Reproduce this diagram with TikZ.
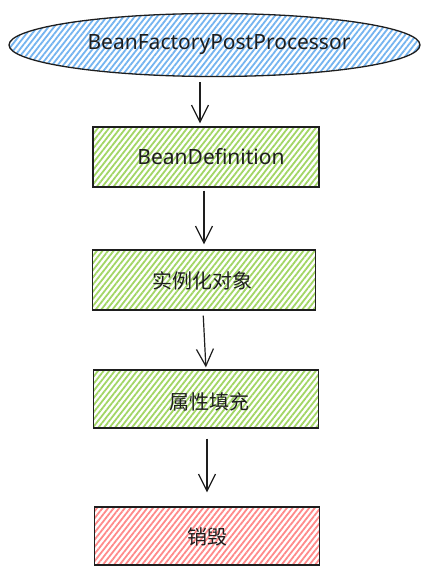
\documentclass[tikz,border=0pt]{standalone}
\usepackage{fontspec}
\setmainfont{Noto Sans}
\newfontfamily\cjk{Noto Sans CJK SC}
\usetikzlibrary{shapes.geometric,arrows.meta,patterns.meta}
\definecolor{inkc}{HTML}{1E1E1E}
\definecolor{hblue}{HTML}{74B4F0}
\definecolor{hgreen}{HTML}{A2D665}
\definecolor{hred}{HTML}{FF8A8A}
\tikzset{
  x=1pt,y=-1pt,
  hatch/.style={pattern={Lines[angle=52,distance=4.4pt,line width=1.8pt]},pattern color=#1},
  stagebox/.style={draw=inkc,line width=1.3pt,rectangle,minimum width=225pt,minimum height=60pt,inner sep=0pt},
  ovalnode/.style={draw=inkc,line width=1.3pt,ellipse,minimum width=411pt,minimum height=63pt,inner sep=0pt},
  lbl/.style={font=\fontsize{21}{24}\selectfont,text=inkc},
  cjklbl/.style={font=\cjk\fontsize{20}{24}\selectfont,text=inkc},
  arr/.style={draw=inkc,line width=1.2pt,-{Straight Barb[length=17pt,width=17pt,line width=1.2pt]}}
}
\begin{document}
\begin{tikzpicture}
\useasboundingbox (0,0) rectangle (428,575);
\fill[white] (0,0) rectangle (428,575);
% shapes
\node[ovalnode,hatch=hblue] (e) at (214.5,45) {};
\node[stagebox,hatch=hgreen,minimum width=226pt] (b1) at (206,157) {};
\node[stagebox,hatch=hgreen,minimum width=223pt] (b2) at (204,280) {};
\node[stagebox,hatch=hgreen,minimum height=58pt] (b3) at (206,399) {};
\node[stagebox,hatch=hred,minimum height=58pt] (b4) at (207,536) {};
% labels
\node[lbl] (te) at (219,45) {BeanFactoryPostProcessor};
\node[lbl] (t1) at (211,157) {BeanDefinition};
\node[cjklbl] (t2) at (202,281) {实例化对象};
\node[cjklbl] (t3) at (209,402) {属性填充};
\node[cjklbl] (t4) at (207,537) {销毁};
% arrows
\draw[arr,shorten <=5pt,shorten >=3pt] ([xshift=-14.5pt]e.south) -- ([xshift=-6pt]b1.north);
\draw[arr,shorten <=3pt,shorten >=5pt] ([xshift=-2pt]b1.south) -- ([xshift=0pt]b2.north);
\draw[arr,shorten <=5pt,shorten >=2pt] ([xshift=-1pt]b2.south) -- ([xshift=0pt]b3.north);
\draw[arr,shorten <=10pt,shorten >=14pt] ([xshift=1pt]b3.south) -- ([xshift=0pt]b4.north);
\end{tikzpicture}
\end{document}
